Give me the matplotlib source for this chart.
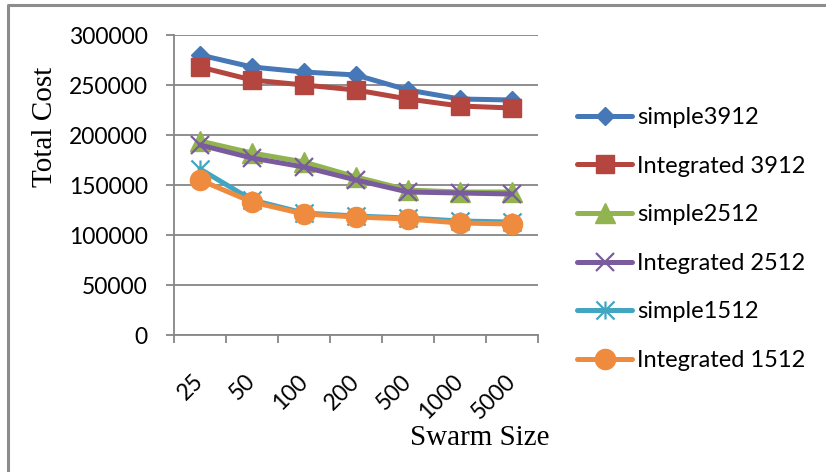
import matplotlib
matplotlib.use("Agg")
import matplotlib.pyplot as plt
from matplotlib.path import Path
from matplotlib.lines import Line2D
from matplotlib.ticker import FuncFormatter
import numpy as np

# Swarm sizes tested and total cost for each scenario
swarm_sizes = ["25", "50", "100", "200", "500", "1000", "5000"]
simple3912 = [280000, 268000, 263000, 260000, 245000, 236000, 235000]
integrated3912 = [268000, 255000, 250000, 245000, 236000, 229000, 227000]
simple2512 = [194000, 182000, 173000, 158000, 145000, 143000, 143000]
integrated2512 = [190000, 177000, 168000, 155000, 143000, 142000, 141000]
simple1512 = [166000, 135000, 122000, 119000, 117000, 114000, 113000]
integrated1512 = [155000, 133000, 121000, 118000, 116000, 112000, 111000]

series_labels = ["simple3912", "Integrated 3912", "simple2512",
                 "Integrated 2512", "simple1512", "Integrated 1512"]

W, H = 826, 472
GRAY = "#868686"
TICK_FONT = "Lato"
SERIF = "Liberation Serif"

fig = plt.figure(figsize=(W / 100, H / 100), dpi=100)
ax = fig.add_axes([174 / W, 1 - 335 / H, 364 / W, 300 / H])

# asterisk marker: vertical stroke plus a cross
star = Path([(0, -1), (0, 1), (-1, -1), (1, 1), (-1, 1), (1, -1)],
            [Path.MOVETO, Path.LINETO] * 3)

styles = [
    dict(color="#4677B6", marker="D", ms=9.5),
    dict(color="#B4453F", marker="s", ms=13.5),
    dict(color="#92B450", marker="^", ms=14),
    dict(color="#7A5C9E", marker="x", ms=13, mew=1.6),
    dict(color="#42A6C1", marker=star, ms=13, mew=1.6),
    dict(color="#EE8B3E", marker="o", ms=14.5),
]
values = [simple3912, integrated3912, simple2512,
          integrated2512, simple1512, integrated1512]

x = np.arange(len(swarm_sizes))
for vals, label, st in zip(values, series_labels, styles):
    ax.plot(x, vals, label=label, lw=3.6, solid_capstyle="round",
            solid_joinstyle="round", **st)

ax.set_xlim(-0.5, len(swarm_sizes) - 0.5)
ax.set_ylim(0, 300000)
ax.set_yticks(np.arange(0, 300001, 50000))
ax.yaxis.set_major_formatter(FuncFormatter(lambda v, p: f"{int(v)}"))
ax.yaxis.grid(True, color=GRAY, lw=1.3)
ax.set_axisbelow(True)

ax.set_xticks(x)
ax.set_xticklabels(swarm_sizes, rotation=45, ha="right", va="center",
                   rotation_mode="anchor")
ax.set_xticks(np.arange(-0.5, len(swarm_sizes)), minor=True)
ax.tick_params(axis="x", which="major", length=0, pad=31)
ax.tick_params(axis="x", which="minor", length=6, width=1.3, color=GRAY)
ax.tick_params(axis="y", length=6, width=1.3, color=GRAY, pad=13)
for lbl in ax.get_xticklabels() + ax.get_yticklabels():
    lbl.set_fontfamily(TICK_FONT)
    lbl.set_fontsize(16.5)

for side in ("top", "right"):
    ax.spines[side].set_visible(False)
for side in ("left", "bottom"):
    ax.spines[side].set_color(GRAY)
    ax.spines[side].set_linewidth(1.3)

fig.text(45 / W, 1 - 127 / H, "Total Cost", rotation=90, ha="center",
         va="center", fontfamily=SERIF, fontsize=21)
fig.text(480 / W, 1 - 445 / H, "Swarm Size", ha="center", va="baseline",
         fontfamily=SERIF, fontsize=21)

leg = fig.legend(loc="center left", bbox_to_anchor=(577 / W, 1 - 239 / H),
                 frameon=False, borderpad=0, borderaxespad=0,
                 handlelength=2.35, handletextpad=0.2, labelspacing=1.17,
                 prop={"family": TICK_FONT, "size": 17})

# outer chart frame (left and top edges)
fig.add_artist(Line2D([8 / W, 8 / W, 1], [0, 1 - 5 / H, 1 - 5 / H],
                      transform=fig.transFigure, color="#8C8C8C", lw=2.2))

fig.savefig("out.png", dpi=100)
